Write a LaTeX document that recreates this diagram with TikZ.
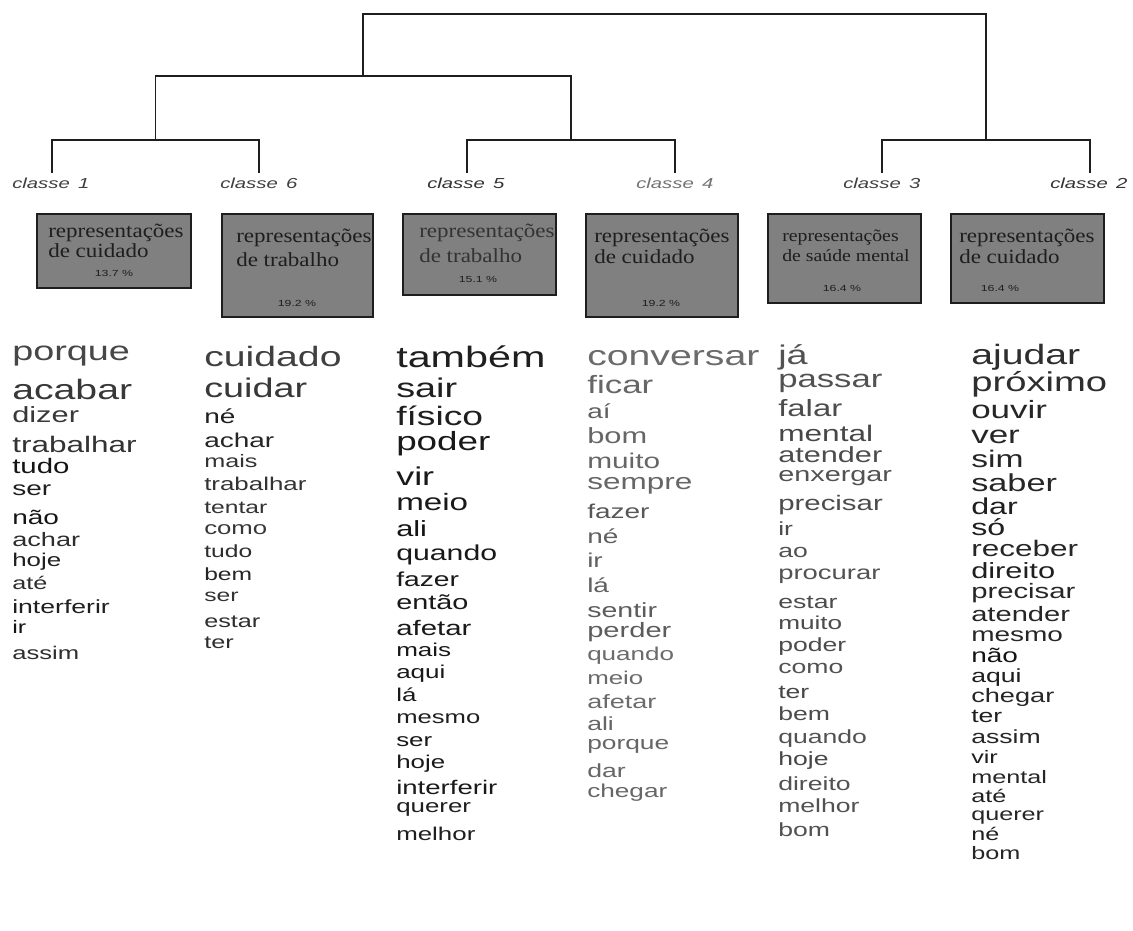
\documentclass[tikz,border=0pt]{standalone}
\usepackage{fontspec}
\usetikzlibrary{fit}
\newfontfamily\wf[FakeStretch=1.4]{Liberation Sans}
\newfontfamily\bxf[FakeStretch=1.15]{Liberation Serif}
\newcommand\px[1]{\fontsize{\fpeval{#1*0.75}pt}{\fpeval{#1*0.9}pt}\selectfont}
\definecolor{boxfill}{HTML}{808080}
\definecolor{ink}{HTML}{1E1E1E}
\begin{document}
\begin{tikzpicture}[x=0.75pt,y=-0.75pt,
  word/.style={anchor=base west,inner sep=0pt},
  tree/.style={draw=ink,line width=1.1pt},
  cls/.style={anchor=base west,inner sep=0pt,font=\wf\itshape\px{14.5}},
  box/.style={draw=ink,fill=boxfill,line width=1.1pt,inner sep=0pt},
  btxt/.style={anchor=base west,inner sep=0pt,text=ink,font=\bxf\px{20}},
  bsmall/.style={anchor=base west,inner sep=0pt,text=ink,font=\bxf\px{17.2}},
  pct/.style={anchor=base,inner sep=0pt,text=ink,font=\wf\px{8.8}}]
\fill[white] (0,0) rectangle (1133,931);
\useasboundingbox (0,0) rectangle (1133,931);
% dendrogram
\coordinate (k1) at (52,173);
\coordinate (k6) at (259,173);
\coordinate (k5) at (467,173);
\coordinate (k4) at (675,173);
\coordinate (k3) at (882,173);
\coordinate (k2) at (1090,173);
\coordinate (j16) at (155.5,140);
\coordinate (j54) at (571,140);
\coordinate (j32) at (986,140);
\coordinate (jL) at (363,76);
\coordinate (root) at (674.5,14);
\draw[tree] (k1) |- (j16) -| (k6);
\draw[tree] (k5) |- (j54) -| (k4);
\draw[tree] (k3) |- (j32) -| (k2);
\draw[tree] (j16) |- (jL) -| (j54);
\draw[tree] (jL) |- (root) -| (j32);
% class labels
\node[cls,text=black!75] (l1) at (12,188) {classe\hspace{2pt} 1};
\node[cls,text=black!75] (l6) at (220,188) {classe\hspace{2pt} 6};
\node[cls,text=black!80] (l5) at (427,188) {classe\hspace{2pt} 5};
\node[cls,text=black!55] (l4) at (636,188) {classe\hspace{2pt} 4};
\node[cls,text=black!75] (l3) at (843,188) {classe\hspace{2pt} 3};
\node[cls,text=black!80] (l2) at (1050,188) {classe\hspace{2pt} 2};
% boxes
\node[box,fit={(37,214)(191,288)}] (b1) {};
\node[box,fit={(222,214)(373,317)}] (b6) {};
\node[box,fit={(403,214)(556,295)}] (b5) {};
\node[box,fit={(586,214)(738,317)}] (b4) {};
\node[box,fit={(768,214)(921,303)}] (b3) {};
\node[box,fit={(951,214)(1104,303)}] (b2) {};
\node[btxt] (t1a) at (48,238) {representações};
\node[btxt] (t1b) at (48,257) {de cuidado};
\node[pct] (p1) at (114,276) {13.7 \%};
\node[btxt] (t6a) at (236,243) {representações};
\node[btxt] (t6b) at (236,266) {de trabalho};
\node[pct] (p6) at (297,306) {19.2 \%};
\node[btxt,text=black!80] (t5a) at (419,238) {representações};
\node[btxt,text=black!80] (t5b) at (419,262) {de trabalho};
\node[pct] (p5) at (478,282) {15.1 \%};
\node[btxt] (t4a) at (594,242) {representações};
\node[btxt] (t4b) at (594,263) {de cuidado};
\node[pct] (p4) at (661,306) {19.2 \%};
\node[bsmall] (t3a) at (782,241) {representações};
\node[bsmall] (t3b) at (782,261) {de saúde mental};
\node[pct] (p3) at (842,291) {16.4 \%};
\node[btxt] (t2a) at (959,242) {representações};
\node[btxt] (t2b) at (959,263) {de cuidado};
\node[pct] (p2) at (1000,291) {16.4 \%};
% word columns
\foreach \t/\y/\s/\c [count=\i] in {porque/360/27/72, acabar/399/28/78, dizer/422/22/78, trabalhar/452/22.5/80, tudo/473/21/92, ser/495/20/88, não/524/20/92, achar/546/19.4/82, hoje/566/18.5/88, até/589/18/82, interferir/613/19/88, ir/633/18/92, assim/659/18.3/82}
  \node[word,text=black!\c,font=\wf\px{\s}] (a\i) at (12,\y) {\t};
\foreach \t/\y/\s/\c [count=\i] in {cuidado/366/28/75, cuidar/397/27/78, né/423/20/88, achar/447/20/85, mais/467/18/80, trabalhar/490/18.5/80, tentar/513/17.6/80, como/534/18.4/78, tudo/557/17.6/82, bem/580/17.6/85, ser/601/17.6/80, estar/627/18/82, ter/648/18/82}
  \node[word,text=black!\c,font=\wf\px{\s}] (f\i) at (204,\y) {\t};
\foreach \t/\y/\s/\c [count=\i] in {também/367/29.5/88, sair/397/27/88, físico/425/26.6/88, poder/450/26.3/90, vir/485/25.7/90, meio/510/23.7/90, ali/536/22/92, quando/560/21.6/90, fazer/586/20.2/90, então/609/20.6/90, afetar/635/21/90, mais/656/18.6/90, aqui/678/18.6/90, lá/701/18.5/90, mesmo/723/18.3/88, ser/746/18.5/90, hoje/768/18.5/90, interferir/794/19.7/90, querer/812/18.5/88, melhor/840/18.5/88}
  \node[word,text=black!\c,font=\wf\px{\s}] (e\i) at (396,\y) {\t};
\foreach \t/\y/\s/\c [count=\i] in {conversar/365/28/58, ficar/393/25/60, aí/418/20/62, bom/443/22/60, muito/468/21.3/60, sempre/489/22.5/60, fazer/518/20/66, né/543/20/62, ir/567/20/62, lá/592/20/62, sentir/617/20.4/64, perder/637/20.8/64, quando/660/18.6/58, meio/684/18.5/58, afetar/708/19.3/58, ali/730/19/60, porque/749/18.8/60, dar/777/19/60, chegar/797/18.7/60}
  \node[word,text=black!\c,font=\wf\px{\s}] (d\i) at (587,\y) {\t};
\foreach \t/\y/\s/\c [count=\i] in {já/364/27/68, passar/387/24.8/68, falar/416/23.5/70, mental/441/22.6/72, atender/462/21.9/70, enxergar/481/20.6/68, precisar/510/21/70, ir/535/19/70, ao/557/19/68, procurar/579/19.6/68, estar/608/19/70, muito/629/18.7/70, poder/651/19/70, como/673/19/68, ter/698/19/72, bem/720/19/70, quando/743/19/68, hoje/765/19/72, direito/790/19/68, melhor/812/19/68, bom/836/19/68}
  \node[word,text=black!\c,font=\wf\px{\s}] (c\i) at (778,\y) {\t};
\foreach \t/\y/\s/\c [count=\i] in {ajudar/364/28/82, próximo/391/27.3/82, ouvir/418/25/85, ver/443/25/85, sim/467/24/85, saber/491/24.5/85, dar/514/23/88, só/535/23/88, receber/556/22.5/85, direito/578/22/88, precisar/598/20.9/85, atender/621/20.8/85, mesmo/641/20/85, não/662/20/92, aqui/682/19/88, chegar/702/19.4/85, ter/722/19/88, assim/743/19/85, vir/763/18/88, mental/783/18/85, até/802/18/88, querer/820/18/85, né/840/18/88, bom/859/18/85}
  \node[word,text=black!\c,font=\wf\px{\s}] (g\i) at (971,\y) {\t};
\end{tikzpicture}
\end{document}
